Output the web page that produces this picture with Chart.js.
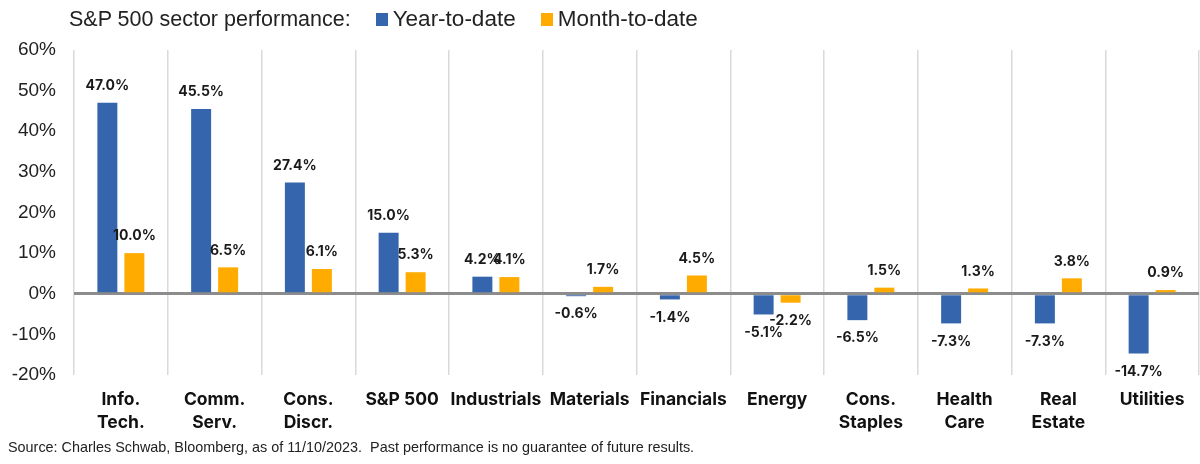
<!DOCTYPE html>
<html>
<head>
<meta charset="utf-8">
<script src="https://cdn.jsdelivr.net/npm/chart.js@4.4.0/dist/chart.umd.min.js"></script>
<style>
  html, body { margin: 0; padding: 0; background: #fff; }
  #wrap { position: relative; width: 1200px; height: 464px; }
  #header {
    position: absolute; left: 69px; top: 4px; height: 30px;
    display: flex; align-items: center;
    font-family: "Liberation Sans", Arial, sans-serif; font-size: 21.5px; color: #222;
  }
  #header .item { display: flex; align-items: center; margin-left: 25px; font-size: 22.5px; }
  #header .box { width: 12px; height: 13px; margin-right: 5px; }
  #source {
    position: absolute; left: 8px; top: 439px;
    font-family: "Liberation Sans", Arial, sans-serif; font-size: 14.4px; color: #222;
  }
  canvas { position: absolute; left: 0; top: 0; }
</style>
</head>
<body>
<div id="wrap">
  <canvas id="sectorChart" width="1200" height="464"></canvas>
  <div id="header"><span>S&amp;P 500 sector performance:</span></div>
  <div id="source">Source: Charles Schwab, Bloomberg, as of 11/10/2023.&nbsp; Past performance is no guarantee of future results.</div>
</div>
<script>
const categories = [
  ["Info.", "Tech."], ["Comm.", "Serv."], ["Cons.", "Discr."], "S&P 500", "Industrials",
  "Materials", "Financials", "Energy", ["Cons.", "Staples"], ["Health", "Care"],
  ["Real", "Estate"], "Utilities"
];
const yearToDate = [47.0, 45.5, 27.4, 15.0, 4.2, -0.6, -1.4, -5.1, -6.5, -7.3, -7.3, -14.7];
const monthToDate = [10.0, 6.5, 6.1, 5.3, 4.1, 1.7, 4.5, -2.2, 1.5, 1.3, 3.8, 0.9];
const yTicks = [-20, -10, 0, 10, 20, 30, 40, 50, 60];

const seriesColors = ["#3566ad", "#ffab00"];

// bar value labels
const valueLabels = {
  id: "valueLabels",
  afterDatasetsDraw(chart) {
    const ctx = chart.ctx;
    ctx.save();
    ctx.font = "bold 14px Inter, 'Liberation Sans', sans-serif";
    ctx.fillStyle = "#1a1a1a";
    ctx.textAlign = "center";
    ctx.textBaseline = "middle";
    chart.data.datasets.forEach((ds, i) => {
      chart.getDatasetMeta(i).data.forEach((bar, j) => {
        const v = ds.data[j];
        const y = v >= 0 ? bar.y - 17 : bar.y + 18;
        ctx.fillText(v.toFixed(1) + "%", bar.x, y);
      });
    });
    ctx.restore();
  }
};

const chart = new Chart(document.getElementById("sectorChart"), {
  type: "bar",
  data: {
    labels: categories,
    datasets: [
      { label: "Year-to-date", data: yearToDate, backgroundColor: seriesColors[0] },
      { label: "Month-to-date", data: monthToDate, backgroundColor: seriesColors[1] }
    ]
  },
  options: {
    responsive: false,
    animation: false,
    layout: { padding: { top: 50, right: 1, bottom: 0, left: 0 } },
    datasets: { bar: { barPercentage: 0.74, categoryPercentage: 0.576 } },
    plugins: {
      legend: { display: false },
      tooltip: { enabled: false }
    },
    scales: {
      x: {
        border: { display: false },
        grid: {
          // no separator after the last sector
          color: (c) => (c.index === categories.length ? "rgba(0,0,0,0)" : "#d9d9d9"),
          lineWidth: 1.5, drawTicks: false, offset: true
        },
        ticks: {
          padding: 14,
          color: "#111",
          font: { family: "Inter, 'Liberation Sans', sans-serif", size: 17.5, weight: "bold", lineHeight: 1.27 },
          maxRotation: 0, autoSkip: false
        },
        afterFit(scale) { scale.height = 89; }
      },
      y: {
        min: -20, max: 60,
        z: 1,
        border: { display: false },
        grid: {
          drawTicks: false,
          color: (c) => (c.tick && c.tick.value === 0 ? "#8c8c8c" : "rgba(0,0,0,0)"),
          lineWidth: 3
        },
        afterBuildTicks(scale) { scale.ticks = yTicks.map((v) => ({ value: v })); },
        ticks: {
          padding: 18,
          color: "#222",
          font: { family: "'Liberation Sans', Arial, sans-serif", size: 19 },
          callback: (v) => v + "%"
        },
        afterFit(scale) { scale.width = 74; }
      }
    }
  },
  plugins: [valueLabels]
});

// legend in the header line, built from the datasets
const header = document.getElementById("header");
chart.data.datasets.forEach((ds) => {
  const item = document.createElement("span");
  item.className = "item";
  item.innerHTML = `<span class="box" style="background:${ds.backgroundColor}"></span><span>${ds.label}</span>`;
  header.appendChild(item);
});
</script>
</body>
</html>
